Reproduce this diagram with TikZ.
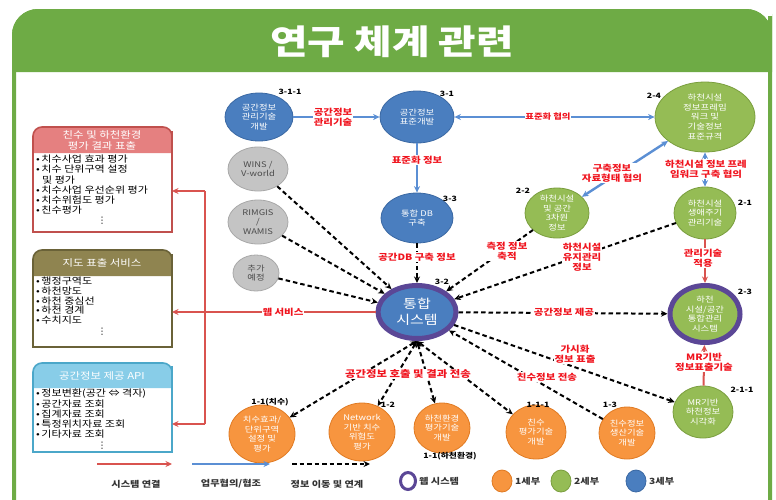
\documentclass[tikz,border=0pt]{standalone}
\usepackage{fontspec}
\setmainfont{Noto Sans CJK KR}[FakeStretch=1.2]
\newfontfamily\dejavu{DejaVu Sans}
\usetikzlibrary{shapes.geometric,arrows.meta}
\newcommand\myfs[2]{\fontsize{#1}{#2}\selectfont}
\definecolor{titlegreen}{HTML}{6EAB45}
\definecolor{nblue}{HTML}{4A7EBF}
\definecolor{nblueb}{HTML}{3A68A3}
\definecolor{ngreen}{HTML}{95BC55}
\definecolor{ngreenb}{HTML}{7A9E3E}
\definecolor{norange}{HTML}{F7953F}
\definecolor{norangeb}{HTML}{E07A22}
\definecolor{ngray}{HTML}{C4C4C4}
\definecolor{ngrayb}{HTML}{A8A8A8}
\definecolor{ring}{HTML}{5B4796}
\definecolor{lred}{HTML}{F0141E}
\definecolor{sysred}{HTML}{D9534F}
\definecolor{lblue}{HTML}{5B8FD4}
\definecolor{hred}{HTML}{E58080}
\definecolor{bred}{HTML}{C0504D}
\definecolor{holive}{HTML}{8F8450}
\definecolor{bolive}{HTML}{6A6238}
\definecolor{hsky}{HTML}{88CDE8}
\definecolor{bsky}{HTML}{4BA7C9}
\begin{document}
\begin{tikzpicture}[x=1pt,y=-1pt,
  >={Stealth[length=6.5pt,width=6pt]},
  ell/.style={ellipse, inner sep=-4pt, align=center, text=white, font=\myfs{7.8}{9.6}},
  bluen/.style={ell, fill=nblue, draw=nblueb, line width=0.8pt},
  greenn/.style={ell, fill=ngreen, draw=ngreenb, line width=0.8pt},
  orangen/.style={ell, fill=norange, draw=norangeb, line width=0.8pt},
  grayn/.style={ell, fill=ngray, draw=ngrayb, line width=0.8pt, text=black!70},
  ringed/.style={draw=ring, line width=5pt},
  num/.style={font=\bfseries\myfs{7.3}{8}, inner sep=0pt},
  lbl/.style={font=\bfseries\myfs{8.7}{10}, text=lred, align=center, fill=white, inner sep=0.8pt},
  bluearrow/.style={draw=lblue, line width=2.4pt},
  redline/.style={draw=sysred, line width=2pt},
  dashline/.style={draw=black, line width=2pt, dash pattern=on 4.5pt off 3pt},
  hdr/.style={font=\myfs{9.5}{11}, text=white, align=center, inner sep=0pt},
  item/.style={font=\myfs{9.2}{10}, anchor=west, inner sep=0pt},
  vdots/.style={font=\dejavu\myfs{9}{10}, inner sep=0pt},
  leg/.style={font=\bfseries\myfs{8.5}{9}, text=black!80, inner sep=0pt},
]
\useasboundingbox (0,0) rectangle (776,499);
\fill[white] (0,0) rectangle (776,499);
% panel
\fill[titlegreen] (12,72) -- (12,40) [rounded corners=26] -- (12,9) -- (772,9) -- (772,40) [sharp corners] -- (772,72) -- cycle;
\draw[titlegreen, line width=4pt] (14,505) -- (14,40) [rounded corners=24] -- (14,11) -- (770,11) -- (770,40) [sharp corners] -- (770,505);
\node[font=\bfseries\myfs{34}{36}, text=white] (title) at (392,42) {연구 체계 관련};

% left boxes
\fill[hred] (33,153) -- (33,140) [rounded corners=9] -- (33,127) -- (172,127) -- (172,140) [sharp corners] -- (172,153) -- cycle;
\draw[bred, line width=1.6pt] (33,232) -- (33,140) [rounded corners=9] -- (33,127) -- (172,127) -- (172,140) [sharp corners] -- (172,232) -- cycle;
\node[hdr] (h1) at (102,140) {친수 및 하천환경\\평가 결과 표출};
\foreach \t [count=\i] in {•\,치수사업 효과 평가, •\,치수 단위구역 설정, \hspace{6pt}및 평가, •\,치수사업 우선순위 평가, •\,치수위험도 평가, •\,친수평가}
  \node[item] (b1i\i) at (36,{159+10.3*(\i-1)}) {\t};
\node[vdots] (b1d) at (102,221) {⋮};

\fill[holive] (33,276) -- (33,263) [rounded corners=9] -- (33,250) -- (172,250) -- (172,263) [sharp corners] -- (172,276) -- cycle;
\draw[bolive, line width=1.6pt] (33,347) -- (33,263) [rounded corners=9] -- (33,250) -- (172,250) -- (172,263) [sharp corners] -- (172,347) -- cycle;
\node[hdr] (h2) at (102,263) {지도 표출 서비스};
\foreach \t [count=\i] in {•\,행정구역도, •\,하천망도, •\,하천 중심선, •\,하천 경계, •\,수치지도}
  \node[item] (b2i\i) at (36,{281+9.8*(\i-1)}) {\t};
\node[vdots] (b2d) at (102,332) {⋮};

\fill[hsky] (33,388) -- (33,375) [rounded corners=9] -- (33,363) -- (172,363) -- (172,375) [sharp corners] -- (172,388) -- cycle;
\draw[bsky, line width=1.6pt] (33,452) -- (33,375) [rounded corners=9] -- (33,363) -- (172,363) -- (172,375) [sharp corners] -- (172,452) -- cycle;
\node[hdr] (h3) at (102,376) {공간정보 제공 API};
\foreach \t [count=\i] in {•\,정보변환(공간 ⇔ 격자), •\,공간자료 조회, •\,집계자료 조회, •\,특정위치자료 조회, •\,기타자료 조회}
  \node[item] (b3i\i) at (36,{394+10*(\i-1)}) {\t};
\node[vdots] (b3d) at (102,446) {⋮};

\coordinate (b1e) at (172,191);
\coordinate (b2e) at (172,312);
\coordinate (b3e) at (172,424);
\coordinate (tr1) at (205,191);
\coordinate (tr3) at (205,424);

% nodes
\node[bluen, minimum width=68, minimum height=48] (n311) at (259,117) {공간정보\\관리기술\\개발};
\node[bluen, minimum width=74, minimum height=52] (n31) at (417,117) {공간정보\\표준개발};
\node[greenn, minimum width=100, minimum height=70, font=\myfs{7.9}{9.6}] (n24) at (705,117) {하천시설\\정보프레임\\워크 및\\기술정보\\표준규격};
\node[greenn, minimum width=64, minimum height=50] (n22) at (557,213) {하천시설\\및 공간\\3차원\\정보};
\node[greenn, minimum width=62, minimum height=52] (n21) at (705,213) {하천시설\\생애주기\\관리기술};
\node[bluen, minimum width=72, minimum height=50] (n33) at (417,218) {통합 DB\\구축};
\node[grayn, minimum width=60, minimum height=44] (wins) at (258,169) {WINS /\\V-world};
\node[grayn, minimum width=60, minimum height=44] (rim) at (258,222) {RIMGIS\\/\\WAMIS};
\node[grayn, minimum width=46, minimum height=36] (add) at (256,273) {추가\\예정};
\node[bluen, ringed, minimum width=78, minimum height=53, font=\myfs{12.5}{16}] (sys) at (417,312) {통합\\시스템};
\node[greenn, ringed, minimum width=70, minimum height=57] (n23) at (705,314) {하천\\시설/공간\\통합관리\\시스템};
\node[greenn, minimum width=60, minimum height=52] (n211) at (703,412) {MR기반\\하천정보\\시각화};
\node[orangen, minimum width=66, minimum height=58] (o1) at (262,434) {치수효과/\\단위구역\\설정 및\\평가};
\node[orangen, minimum width=66, minimum height=58] (o2) at (362,432) {Network\\기반 치수\\위험도\\평가};
\node[orangen, minimum width=56, minimum height=50] (o3) at (442,428) {하천환경\\평가기술\\개발};
\node[orangen, minimum width=60, minimum height=54] (o4) at (536,432) {친수\\평가기술\\개발};
\node[orangen, minimum width=56, minimum height=52] (o5) at (627,433) {친수정보\\생산기술\\개발};

% number labels
\node[num] (k311) at (290,92) {3-1-1};
\node[num] (k31) at (447,94) {3-1};
\node[num] (k24) at (654,96) {2-4};
\node[num] (k22) at (523,191) {2-2};
\node[num] (k33) at (450,199) {3-3};
\node[num] (k21) at (745,203) {2-1};
\node[num] (k32) at (442,282) {3-2};
\node[num] (k23) at (745,292) {2-3};
\node[num] (k211) at (742,390) {2-1-1};
\node[num] (k11a) at (270,402) {1-1(치수)};
\node[num] (k12) at (388,405) {1-2};
\node[num] (k11b) at (450,456) {1-1(하천환경)};
\node[num] (k111) at (538,405) {1-1-1};
\node[num] (k13) at (610,405) {1-3};

% connectors
\draw[bluearrow,->] (n311) -- (n31);
\draw[bluearrow,->] (n31) -- (n33);
\draw[bluearrow,<->] (n31) -- (n24);
\draw[bluearrow,<->] (n24) -- (n22);
\draw[bluearrow,<->] (n24) -- (n21);
\draw[redline,->] (n21) -- (n23);
\draw[redline,->] (n211) -- (n23);
\draw[redline] (tr1) -- (tr3);
\draw[redline,->] (tr1) -- (b1e);
\draw[redline,->] (tr3) -- (b3e);
\draw[redline,->] (sys.west) -- (b2e);

\draw[dashline,->] (wins) -- (sys);
\draw[dashline,->] (rim) -- (sys);
\draw[dashline,->] (add) -- (sys);
\draw[dashline,->] (n33) -- (sys);
\draw[dashline,->] (n22) -- (sys);
\draw[dashline,->] (n21) -- (sys);
\draw[dashline,->] (sys) -- (n23);
\draw[dashline,->] (sys) -- (n211);
\draw[dashline,->] (o5) -- (sys);
\draw[dashline,<->] (sys.south) -- (o1);
\draw[dashline,<->] (sys.south) -- (o2);
\draw[dashline,<->] (sys.south) -- (o3);
\draw[dashline,<->] (sys.south) -- (o4);

% connector labels
\node[lbl] (l1) at (333,117) {공간정보\\관리기술};
\node[lbl, font=\bfseries\myfs{7.8}{9}] (l2) at (548,117) {표준화 협의};
\node[lbl] (l3) at (417,160) {표준화 정보};
\node[lbl] (l4) at (612,173) {구축정보\\자료형태 협의};
\node[lbl] (l5) at (706,169) {하천시설 정보 프레\\임워크 구축 협의};
\node[lbl] (l6) at (417,257) {공간DB 구축 정보};
\node[lbl] (l7) at (507,251) {측정 정보\\축적};
\node[lbl] (l8) at (582,257) {하천시설\\유지관리\\정보};
\node[lbl] (l9) at (703,258) {관리기술\\적용};
\node[lbl] (l10) at (283,312) {웹 서비스};
\node[lbl] (l11) at (564,312) {공간정보 제공};
\node[lbl] (l12) at (575,354) {가시화\\정보 표출};
\node[lbl] (l13) at (704,362) {MR기반\\정보표출기술};
\node[lbl, font=\bfseries\myfs{9.5}{11}] (l14) at (408,374) {공간정보 호출 및 결과 전송};
\node[lbl] (l15) at (547,377) {친수정보 전송};

% legend
\coordinate (g1a) at (97,464); \coordinate (g1b) at (172,464);
\coordinate (g2a) at (192,464); \coordinate (g2b) at (270,464);
\coordinate (g3a) at (292,464); \coordinate (g3b) at (370,464);
\draw[redline,->] (g1a) -- (g1b);
\draw[bluearrow,->] (g2a) -- (g2b);
\draw[dashline,->] (g3a) -- (g3b);
\node[leg] (g1t) at (136,484) {시스템 연결};
\node[leg] (g2t) at (231,484) {업무협의/협조};
\node[leg] (g3t) at (327,484) {정보 이동 및 연계};
\node[ellipse, draw=ring, line width=3pt, fill=white, minimum width=15, minimum height=17, inner sep=0pt] (gw) at (408,481) {};
\node[leg, anchor=west] (gwt) at (419,481) {웹 시스템};
\node[orangen, minimum width=20, minimum height=22] (go) at (502,481) {};
\node[leg, anchor=west] (got) at (515,481) {1세부};
\node[greenn, minimum width=20, minimum height=22] (gg) at (561,481) {};
\node[leg, anchor=west] (ggt) at (574,481) {2세부};
\node[bluen, minimum width=20, minimum height=22] (gb) at (636,481) {};
\node[leg, anchor=west] (gbt) at (649,481) {3세부};
\end{tikzpicture}
\end{document}
